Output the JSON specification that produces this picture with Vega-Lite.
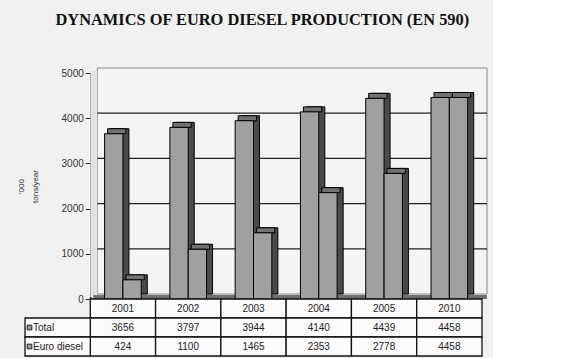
{
  "$schema": "https://vega.github.io/schema/vega-lite/v6.json",
  "background": "#f1f1f1",
  "padding": {"left": 17, "top": 12, "right": 5, "bottom": 2},
  "title": {"text": "DYNAMICS OF EURO DIESEL PRODUCTION (EN 590)", "font": "Liberation Serif", "fontSize": 16.4, "fontWeight": "bold", "color": "#111111", "anchor": "middle", "offset": 39, "dx": 10},
  "config": {"view": {"stroke": null}, "font": "Liberation Sans",
    "axisY": {"offset": -65.29, "format": "d", "titleFontSize": 8, "titleFontWeight": "normal", "titleColor": "#333333", "titlePadding": 22, "titleLineHeight": 14, "labelFontSize": 10, "labelColor": "#333333", "labelPadding": 2, "tickColor": "#222222", "tickSize": 5, "domainColor": "#222222", "domainWidth": 1.5, "grid": false}},
  "spacing": 0,
  "bounds": "flush",
  "datasets": {
    "production": [
      {"year": "2001", "Total": 3656, "Euro diesel": 424},
      {"year": "2002", "Total": 3797, "Euro diesel": 1100},
      {"year": "2003", "Total": 3944, "Euro diesel": 1465},
      {"year": "2004", "Total": 4140, "Euro diesel": 2353},
      {"year": "2005", "Total": 4439, "Euro diesel": 2778},
      {"year": "2010", "Total": 4458, "Euro diesel": 4458}
    ],
    "rows": [{"row": "Total"}, {"row": "Euro diesel"}],
    "wall": [{"top": 5000, "bottom": 0}],
    "grid": [{"v": 1000}, {"v": 2000}, {"v": 3000}, {"v": 4000}]
  },
  "vconcat": [
    {
      "width": 457,
      "height": 226,
      "layer": [
        {
          "data": {"name": "wall"},
          "mark": {"type": "rect", "fill": "#f4f4f4", "stroke": "#8a8a8a", "strokeWidth": 1, "xOffset": 7, "x2Offset": 5, "yOffset": -5, "y2Offset": -5},
          "encoding": {
            "x": {"datum": "2001", "type": "nominal", "bandPosition": 0, "scale": {"domain": ["label", "2001", "2002", "2003", "2004", "2005", "2010"], "paddingInner": 0, "paddingOuter": 0}, "axis": null},
            "x2": {"datum": "2010", "bandPosition": 1},
            "y": {"field": "top", "type": "quantitative", "scale": {"domain": [0, 5000], "nice": false}, "axis": {"title": ["'000", "tons/year"], "values": [0, 1000, 2000, 3000, 4000, 5000]}},
            "y2": {"field": "bottom"}
          }
        },
        {
          "data": {"name": "wall"},
          "mark": {"type": "rect", "fill": "#e2e2e2", "x2Offset": 7, "yOffset": -2, "y2Offset": -2},
          "encoding": {
            "x": {"datum": "2001", "type": "nominal", "bandPosition": 0, "scale": {"domain": ["label", "2001", "2002", "2003", "2004", "2005", "2010"], "paddingInner": 0, "paddingOuter": 0}, "axis": null},
            "x2": {"datum": "2001", "bandPosition": 0},
            "y": {"field": "top", "type": "quantitative", "scale": {"domain": [0, 5000], "nice": false}, "axis": {"title": ["'000", "tons/year"], "values": [0, 1000, 2000, 3000, 4000, 5000]}},
            "y2": {"field": "bottom"}
          }
        },
        {
          "data": {"name": "wall"},
          "mark": {"type": "rect", "fill": "#707070", "xOffset": 3, "x2Offset": 5, "yOffset": -4, "y2Offset": 0},
          "encoding": {
            "x": {"datum": "2001", "type": "nominal", "bandPosition": 0, "scale": {"domain": ["label", "2001", "2002", "2003", "2004", "2005", "2010"], "paddingInner": 0, "paddingOuter": 0}, "axis": null},
            "x2": {"datum": "2010", "bandPosition": 1},
            "y": {"field": "bottom", "type": "quantitative", "scale": {"domain": [0, 5000], "nice": false}, "axis": {"title": ["'000", "tons/year"], "values": [0, 1000, 2000, 3000, 4000, 5000]}},
            "y2": {"field": "bottom"}
          }
        },
        {
          "data": {"name": "grid"},
          "mark": {"type": "rule", "color": "#222222", "strokeWidth": 1.3, "xOffset": 7, "x2Offset": 5, "yOffset": -5},
          "encoding": {
            "x": {"datum": "2001", "type": "nominal", "bandPosition": 0, "scale": {"domain": ["label", "2001", "2002", "2003", "2004", "2005", "2010"], "paddingInner": 0, "paddingOuter": 0}, "axis": null},
            "x2": {"datum": "2010", "bandPosition": 1},
            "y": {"field": "v", "type": "quantitative", "scale": {"domain": [0, 5000], "nice": false}, "axis": {"title": ["'000", "tons/year"], "values": [0, 1000, 2000, 3000, 4000, 5000]}}
          }
        },
        {
          "data": {"name": "production"},
          "transform": [{"fold": ["Total", "Euro diesel"], "as": ["series", "value"]}],
          "encoding": {
            "x": {"field": "year", "type": "nominal", "scale": {"domain": ["label", "2001", "2002", "2003", "2004", "2005", "2010"], "paddingInner": 0, "paddingOuter": 0}, "axis": null},
            "y": {"field": "value", "type": "quantitative", "scale": {"domain": [0, 5000], "nice": false}, "axis": {"title": ["'000", "tons/year"], "values": [0, 1000, 2000, 3000, 4000, 5000]}}
          },
          "resolve": {"scale": {"xOffset": "independent"}},
          "layer": [
            {"mark": {"type": "bar", "fill": "#4a4a4a", "stroke": "#000000", "strokeWidth": 1, "yOffset": -5, "y2Offset": -5},
             "encoding": {"xOffset": {"field": "series", "type": "nominal", "scale": {"domain": ["Total", "Euro diesel"], "paddingInner": 0, "paddingOuter": 0.78, "align": 0.71}}}},
            {"mark": {"type": "bar", "fill": "#727272", "stroke": "#000000", "strokeWidth": 1, "yOffset": -5, "y2Offset": 0},
             "encoding": {"xOffset": {"field": "series", "type": "nominal", "scale": {"domain": ["Total", "Euro diesel"], "paddingInner": 0, "paddingOuter": 0.78, "align": 0.605}}, "y2": {"field": "value"}}},
            {"mark": {"type": "bar", "fill": "#a0a0a0", "stroke": "#000000", "strokeWidth": 1},
             "encoding": {"xOffset": {"field": "series", "type": "nominal", "scale": {"domain": ["Total", "Euro diesel"], "paddingInner": 0, "paddingOuter": 0.78, "align": 0.5}}}}
          ]
        }
      ]
    },
    {
      "width": 457,
      "height": 57,
      "layer": [
        {
          "data": {"name": "production"},
          "mark": {"type": "rect", "fill": "#fbfbfb", "stroke": "#111111", "strokeWidth": 1.3},
          "encoding": {
            "x": {"field": "year", "type": "nominal", "scale": {"domain": ["label", "2001", "2002", "2003", "2004", "2005", "2010"], "paddingInner": 0, "paddingOuter": 0}, "axis": null},
            "y": {"datum": "year", "type": "nominal", "scale": {"domain": ["year", "Total", "Euro diesel"], "paddingInner": 0, "paddingOuter": 0}, "axis": null}
          }
        },
        {
          "data": {"name": "production"},
          "transform": [{"fold": ["Total", "Euro diesel"], "as": ["series", "value"]}],
          "mark": {"type": "rect", "fill": "#fbfbfb", "stroke": "#111111", "strokeWidth": 1.3},
          "encoding": {
            "x": {"field": "year", "type": "nominal", "scale": {"domain": ["label", "2001", "2002", "2003", "2004", "2005", "2010"], "paddingInner": 0, "paddingOuter": 0}, "axis": null},
            "y": {"field": "series", "type": "nominal", "scale": {"domain": ["year", "Total", "Euro diesel"], "paddingInner": 0, "paddingOuter": 0}, "axis": null}
          }
        },
        {
          "data": {"name": "rows"},
          "mark": {"type": "rect", "fill": "#fbfbfb", "stroke": "#111111", "strokeWidth": 1.3},
          "encoding": {
            "x": {"datum": "label", "type": "nominal", "scale": {"domain": ["label", "2001", "2002", "2003", "2004", "2005", "2010"], "paddingInner": 0, "paddingOuter": 0}, "axis": null},
            "y": {"field": "row", "type": "nominal", "scale": {"domain": ["year", "Total", "Euro diesel"], "paddingInner": 0, "paddingOuter": 0}, "axis": null}
          }
        },
        {
          "data": {"name": "production"},
          "mark": {"type": "text", "fontSize": 10, "color": "#222222"},
          "encoding": {
            "x": {"field": "year", "type": "nominal", "scale": {"domain": ["label", "2001", "2002", "2003", "2004", "2005", "2010"], "paddingInner": 0, "paddingOuter": 0}, "axis": null},
            "y": {"datum": "year", "type": "nominal", "scale": {"domain": ["year", "Total", "Euro diesel"], "paddingInner": 0, "paddingOuter": 0}, "axis": null},
            "text": {"field": "year", "type": "nominal"}
          }
        },
        {
          "data": {"name": "production"},
          "transform": [{"fold": ["Total", "Euro diesel"], "as": ["series", "value"]}],
          "mark": {"type": "text", "fontSize": 10, "color": "#222222"},
          "encoding": {
            "x": {"field": "year", "type": "nominal", "scale": {"domain": ["label", "2001", "2002", "2003", "2004", "2005", "2010"], "paddingInner": 0, "paddingOuter": 0}, "axis": null},
            "y": {"field": "series", "type": "nominal", "scale": {"domain": ["year", "Total", "Euro diesel"], "paddingInner": 0, "paddingOuter": 0}, "axis": null},
            "text": {"field": "value", "type": "nominal"}
          }
        },
        {
          "data": {"name": "rows"},
          "mark": {"type": "text", "fontSize": 10, "color": "#222222", "align": "left", "dx": 8},
          "encoding": {
            "x": {"datum": "label", "type": "nominal", "bandPosition": 0, "scale": {"domain": ["label", "2001", "2002", "2003", "2004", "2005", "2010"], "paddingInner": 0, "paddingOuter": 0}, "axis": null},
            "y": {"field": "row", "type": "nominal", "scale": {"domain": ["year", "Total", "Euro diesel"], "paddingInner": 0, "paddingOuter": 0}, "axis": null},
            "text": {"field": "row", "type": "nominal"}
          }
        },
        {
          "data": {"name": "rows"},
          "mark": {"type": "point", "shape": "square", "filled": true, "fill": "#9a9a9a", "stroke": "#222222", "strokeWidth": 1, "size": 22, "xOffset": 4.5, "opacity": 1},
          "encoding": {
            "x": {"datum": "label", "type": "nominal", "bandPosition": 0, "scale": {"domain": ["label", "2001", "2002", "2003", "2004", "2005", "2010"], "paddingInner": 0, "paddingOuter": 0}, "axis": null},
            "y": {"field": "row", "type": "nominal", "scale": {"domain": ["year", "Total", "Euro diesel"], "paddingInner": 0, "paddingOuter": 0}, "axis": null}
          }
        }
      ]
    }
  ]
}
